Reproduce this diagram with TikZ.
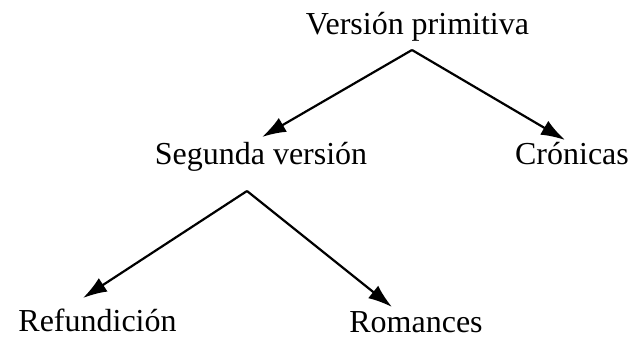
\documentclass[tikz,border=0pt]{standalone}
\usepackage{fontspec}
\setmainfont{Liberation Serif}
\usetikzlibrary{arrows.meta}
\begin{document}
\begin{tikzpicture}[x=1pt,y=-1pt,
  label/.style={anchor=base,inner sep=0pt,font=\fontsize{32}{36}\selectfont},
  link/.style={line width=2.2pt,-{Latex[length=24pt,width=16pt]}}]
  \useasboundingbox (0,0) rectangle (632,344);
  % stemma nodes
  \node[label] (vp)  at (417.5,35)  {Versión primitiva};
  \node[label] (sv)  at (261,165)   {Segunda versión};
  \node[label] (cr)  at (572,165)   {Crónicas};
  \node[label] (ref) at (97.5,332)  {Refundición};
  \node[label] (rom) at (416,333)   {Romances};
  % fork points under each parent and arrow ends above each child
  \coordinate (vpfork) at (412,50);
  \coordinate (svfork) at (247,191);
  \coordinate (svend)  at (262,137);
  \coordinate (crend)  at (565,140);
  \coordinate (refend) at (83,298);
  \coordinate (romend) at (392,307);
  \draw[link] (vpfork) -- (svend);
  \draw[link] (vpfork) -- (crend);
  \draw[link] (svfork) -- (refend);
  \draw[link] (svfork) -- (romend);
\end{tikzpicture}
\end{document}
